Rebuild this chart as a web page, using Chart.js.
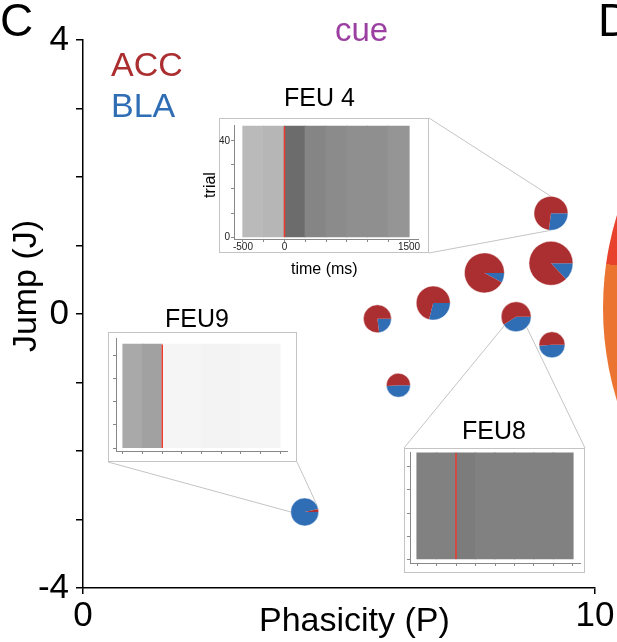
<!DOCTYPE html>
<html>
<head>
<meta charset="utf-8">
<script src="https://cdn.jsdelivr.net/npm/chart.js@4.4.1/dist/chart.umd.min.js"></script>
<style>
html, body { margin: 0; padding: 0; background: #fff; overflow: hidden; }
body { width: 617px; height: 642px; position: relative; font-family: "Liberation Sans", Arial, Helvetica, sans-serif; }
.txt { position: absolute; white-space: nowrap; line-height: 1; color: #000; }
.box { position: absolute; border: 1px solid #c4c4c4; background: #fff; box-sizing: border-box; }
canvas { position: absolute; }
#panelD { position: absolute; left: 603px; top: -8px; width: 632px; height: 632px; border-radius: 50%;
  background: conic-gradient(#ec7431 0deg 278deg, #e8412c 278deg 360deg); }
</style>
</head>
<body>

<div id="panelD"></div>
<canvas id="main" width="617" height="642" style="left:0;top:0"></canvas>

<div class="box" style="left:219px;top:118px;width:210px;height:135px"></div>
<canvas id="feu4" width="210" height="135" style="left:219px;top:118px"></canvas>
<div class="box" style="left:108px;top:332px;width:189px;height:130px"></div>
<canvas id="feu9" width="189" height="130" style="left:108px;top:332px"></canvas>
<div class="box" style="left:404px;top:448px;width:181px;height:125px"></div>
<canvas id="feu8" width="181" height="125" style="left:404px;top:448px"></canvas>

<div class="txt" style="left:0;top:-3px;font-size:46px">C</div>
<div class="txt" style="left:598px;top:-3px;font-size:46px">D</div>
<div class="txt" style="left:335px;top:13px;font-size:33px;color:#9b3fa0">cue</div>
<div class="txt" style="left:111px;top:47px;font-size:34px;color:#ab2f30">ACC</div>
<div class="txt" style="left:111px;top:88px;font-size:34px;color:#2f6db5">BLA</div>

<div class="txt" style="left:284px;top:85px;font-size:25px">FEU 4</div>
<div class="txt" style="left:165px;top:306px;font-size:25px">FEU9</div>
<div class="txt" style="left:462px;top:418px;font-size:25px">FEU8</div>
<div class="txt" style="left:210px;top:185px;font-size:16px;transform:translate(-50%,-50%) rotate(-90deg)">trial</div>
<div class="txt" style="left:291px;top:261px;font-size:16px">time (ms)</div>

<div class="txt" style="left:259px;top:602px;font-size:34px">Phasicity (P)</div>
<div class="txt" style="left:24px;top:286px;font-size:34px;transform:translate(-50%,-50%) rotate(-90deg)">Jump (J)</div>

<script>
// scatter of units: phasicity vs jump, pie = ACC / BLA share
const phasicity = [9.14, 9.14, 7.84, 6.84, 5.75, 8.46, 9.16, 6.16, 4.33];
const jump      = [1.47, 0.74, 0.60, 0.16, -0.07, -0.04, -0.45, -1.04, -2.89];
const bubbleR   = [17, 22, 20, 17, 14, 15, 13, 12, 14];
const blaShare  = [0.27, 0.13, 0.08, 0.29, 0.23, 0.41, 0.49, 0.49, 0.965];

const xTicks = [0, 10];
const yLabels = [-4, 0, 4];

// raster insets: spike density per 250 ms bin (0..1)
const rasterBins  = [-375, -125, 125, 375, 625, 875, 1125, 1375];
const feu4Density = [0.34, 0.36, 0.72, 0.60, 0.57, 0.55, 0.55, 0.52];
const feu9Density = [0.42, 0.46, 0.05, 0.05, 0.06, 0.06, 0.05, 0.05];
const feu8Density = [0.62, 0.62, 0.64, 0.62, 0.62, 0.62, 0.62, 0.62];
const feu4Trials = 46, feu9Trials = 45, feu8Trials = 46;
const cueTime = 0;
const timeTicks = [-500, -250, 0, 250, 500, 750, 1000, 1250, 1500];
const timeLabels = [-500, 0, 1500];
const trialLabels = [0, 40];

const ACC = "#ab2f30";
const BLA = "#2f6db5";
Chart.defaults.font.family = "'Liberation Sans', Arial, Helvetica, sans-serif";

// which pie each inset points to, and where the links end on the pie
const insetLinks = [
    { box: [219, 118, 210, 135], pie: 0, ends: [[1, 0, -90], [1, 1, 90]] },
    { box: [108, 332, 189, 130], pie: 8, ends: [[0, 1, 180], [1, 1, -28]] },
    { box: [404, 448, 181, 125], pie: 5, ends: [[0, 0, 143], [1, 0, 45]] }
];

const piePlugin = {
    id: "pies",
    afterDatasetsDraw(chart) {
        const ctx = chart.ctx;
        const pts = chart.getDatasetMeta(0).data;

        // link lines
        ctx.save();
        ctx.strokeStyle = "#c4c4c4";
        ctx.lineWidth = 1;
        insetLinks.forEach(l => {
            const p = pts[l.pie];
            const r = p.options.radius;
            l.ends.forEach(e => {
                const bx = l.box[0] + e[0] * l.box[2];
                const by = l.box[1] + e[1] * l.box[3];
                const a = e[2] * Math.PI / 180;
                ctx.beginPath();
                ctx.moveTo(bx, by);
                ctx.lineTo(p.x + r * Math.cos(a), p.y + r * Math.sin(a));
                ctx.stroke();
            });
        });
        ctx.restore();

        // pies
        pts.forEach((p, i) => {
            const r = p.options.radius;
            const a = blaShare[i] * Math.PI * 2;
            ctx.save();
            ctx.beginPath();
            ctx.moveTo(p.x, p.y);
            ctx.arc(p.x, p.y, r, 0, a);
            ctx.closePath();
            ctx.fillStyle = BLA;
            ctx.fill();
            ctx.beginPath();
            ctx.moveTo(p.x, p.y);
            ctx.arc(p.x, p.y, r, a, Math.PI * 2);
            ctx.closePath();
            ctx.fillStyle = ACC;
            ctx.fill();
            ctx.beginPath();
            ctx.arc(p.x, p.y, r, 0, Math.PI * 2);
            ctx.strokeStyle = "rgba(255,255,255,0.6)";
            ctx.lineWidth = 0.8;
            ctx.stroke();
            ctx.restore();
        });
    }
};

new Chart(document.getElementById("main"), {
    type: "bubble",
    data: {
        datasets: [{
            data: phasicity.map((x, i) => ({ x: x, y: jump[i], r: bubbleR[i] })),
            backgroundColor: "rgba(0,0,0,0)",
            borderWidth: 0,
            hoverRadius: 0
        }]
    },
    options: {
        responsive: false,
        animation: false,
        events: [],
        layout: { padding: { top: 40, right: 21, left: 0, bottom: 0 } },
        plugins: { legend: { display: false }, tooltip: { enabled: false } },
        scales: {
            x: {
                type: "linear",
                min: xTicks[0],
                max: xTicks[1],
                afterFit: s => { s.height = 54; },
                afterBuildTicks: s => { s.ticks = xTicks.map(v => ({ value: v })); },
                ticks: { font: { size: 35 }, color: "#000", padding: 1, maxRotation: 0, autoSkip: false },
                grid: { drawOnChartArea: false, tickLength: 6, color: "#000", lineWidth: 1.5 },
                border: { color: "#000", width: 1.5 }
            },
            y: {
                min: -4,
                max: 4,
                afterFit: s => { s.width = 83; },
                ticks: {
                    stepSize: 1,
                    autoSkip: false,
                    callback: v => yLabels.includes(v) ? String(v) : "",
                    font: { size: 35 }, color: "#000", padding: 7
                },
                grid: { drawOnChartArea: false, tickLength: 7, color: "#000", lineWidth: 1.5 },
                border: { color: "#000", width: 1.5 }
            }
        }
    },
    plugins: [piePlugin]
});

// raster inset as gray density bars + red cue line
function gray(d) {
    const g = Math.round(255 * (1 - d * 0.8));
    return `rgb(${g},${g},${g})`;
}

// time labels under the FEU 4 raster
const timeLabelPlugin = {
    id: "timeLabels",
    afterDraw(chart) {
        if (!chart.options.showTimeLabels) return;
        const ctx = chart.ctx;
        const xs = chart.scales.x;
        ctx.save();
        ctx.font = "10px 'Liberation Sans', Arial, sans-serif";
        ctx.fillStyle = "#222";
        ctx.textAlign = "center";
        ctx.textBaseline = "top";
        timeLabels.forEach(v => {
            ctx.fillText(String(v), xs.getPixelForValue(v), xs.top + 3);
        });
        ctx.restore();
    }
};

function rasterInset(id, density, trials, o) {
    new Chart(document.getElementById(id), {
        type: "bar",
        data: {
            datasets: [
                {
                    type: "line",
                    data: [{ x: cueTime, y: 0 }, { x: cueTime, y: trials }],
                    borderColor: "#ee3b2e",
                    borderWidth: 1.5,
                    pointRadius: 0,
                    order: 0
                },
                {
                    data: rasterBins.map(b => ({ x: b, y: [0, trials] })),
                    backgroundColor: density.map(gray),
                    borderWidth: 0,
                    inflateAmount: 0.6,
                    barPercentage: 1,
                    categoryPercentage: 1,
                    order: 1
                }
            ]
        },
        options: {
            responsive: false,
            animation: false,
            events: [],
            showTimeLabels: o.labels,
            layout: { padding: { top: o.top, right: o.right, left: 0, bottom: 0 } },
            plugins: { legend: { display: false }, tooltip: { enabled: false } },
            scales: {
                x: {
                    type: "linear",
                    offset: false,
                    min: o.xmin,
                    max: o.xmax,
                    afterFit: s => { s.height = o.xh; },
                    afterBuildTicks: s => { s.ticks = timeTicks.map(v => ({ value: v })); },
                    ticks: { display: false },
                    grid: { offset: false, drawOnChartArea: false, tickLength: 3, color: "#888" },
                    border: { color: "#888" }
                },
                y: {
                    min: o.ymin,
                    max: o.ymax,
                    afterFit: s => { s.width = o.yw; },
                    ticks: {
                        display: o.labels,
                        stepSize: 10,
                        includeBounds: false,
                        autoSkip: false,
                        padding: 1,
                        font: { size: 10 },
                        color: "#222",
                        callback: v => trialLabels.includes(v) ? String(v) : ""
                    },
                    grid: { drawOnChartArea: false, tickLength: 3, color: "#888" },
                    border: { color: "#888" }
                }
            }
        },
        plugins: [timeLabelPlugin]
    });
}

rasterInset("feu4", feu4Density, feu4Trials,
    { labels: true, xmin: -608, xmax: 1608, ymin: -0.8, ymax: 46.6, top: 5, right: 11, xh: 14, yw: 15 });
rasterInset("feu9", feu9Density, feu9Trials,
    { labels: false, xmin: -589, xmax: 1589, ymin: -1.3, ymax: 47.8, top: 6, right: 10, xh: 11, yw: 8 });
rasterInset("feu8", feu8Density, feu8Trials,
    { labels: false, xmin: -590, xmax: 1590, ymin: -1.7, ymax: 46.5, top: 4, right: 5, xh: 10, yw: 6 });
</script>
</body>
</html>
